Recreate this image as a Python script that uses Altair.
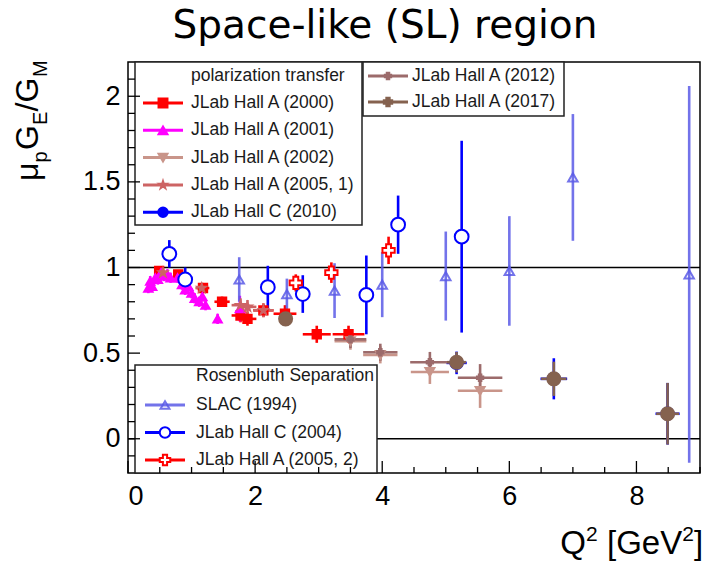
import altair as alt
import pandas as pd

# ---------------- data ----------------
labels = ["JLab Hall A (2000)", "JLab Hall A (2001)", "JLab Hall A (2002)",
          "JLab Hall A (2005, 1)", "JLab Hall C (2010)", "JLab Hall A (2012)",
          "JLab Hall A (2017)", "SLAC (1994)", "JLab Hall C (2004)",
          "JLab Hall A (2005, 2)"]

a2000_q2 = [0.49, 0.79, 1.18, 1.48, 1.77, 1.88, 2.13, 2.47, 2.97, 3.47]
a2000_r = [0.98, 0.96, 0.88, 0.80, 0.72, 0.70, 0.75, 0.73, 0.61, 0.61]
a2000_dq = [0.05, 0.07, 0.10, 0.12, 0.14, 0.14, 0.16, 0.18, 0.22, 0.25]
a2000_dr = [0.02, 0.02, 0.03, 0.03, 0.04, 0.04, 0.04, 0.05, 0.05, 0.05]

a2001_q2 = [0.32, 0.35, 0.38, 0.43, 0.47, 0.52, 0.57, 0.62, 0.67, 0.78, 0.85,
            0.90, 0.95, 1.00, 1.05, 1.12, 1.17, 1.22, 1.41, 1.76]
a2001_r = [0.88, 0.92, 0.89, 0.94, 0.93, 0.97, 0.95, 0.96, 0.94, 0.94, 0.90,
           0.87, 0.89, 0.85, 0.82, 0.80, 0.83, 0.78, 0.70, 0.76]
a2001_dq = [0.0] * 20
a2001_dr = [0.03] * 18 + [0.03, 0.075]

a2002_q2 = [3.50, 3.97, 4.75, 5.54]
a2002_r = [0.57, 0.49, 0.39, 0.28]
a2002_dq = [0.25, 0.27, 0.30, 0.35]
a2002_dr = [0.05, 0.05, 0.07, 0.10]

a2005_1_q2 = [0.55, 1.16, 1.77, 1.88, 2.13]
a2005_1_r = [0.97, 0.88, 0.78, 0.77, 0.75]
a2005_1_dq = [0.06, 0.10, 0.14, 0.14, 0.16]
a2005_1_dr = [0.02, 0.03, 0.04, 0.04, 0.04]

c2010_q2 = [5.17, 6.70, 8.49]
c2010_r = [0.443, 0.35, 0.146]
c2010_dq = [0.16, 0.21, 0.19]
c2010_dr = [0.066, 0.12, 0.18]

a2012_q2 = [3.50, 3.97, 4.75, 5.54]
a2012_r = [0.58, 0.505, 0.447, 0.356]
a2012_dq = [0.25, 0.27, 0.31, 0.35]
a2012_dr = [0.05, 0.05, 0.06, 0.08]

a2017_q2 = [2.48, 5.17, 6.70, 8.49]
a2017_r = [0.70, 0.447, 0.35, 0.146]
a2017_dq = [0.08, 0.15, 0.20, 0.18]
a2017_dr = [0.02, 0.06, 0.10, 0.18]

slac_q2 = [1.75, 2.50, 3.25, 4.00, 5.00, 6.00, 7.00, 8.83]
slac_r = [0.93, 0.845, 0.865, 0.90, 0.95, 0.98, 1.526, 0.96]
slac_dq = [0.0] * 8
slac_dr = [0.13, 0.09, 0.16, 0.19, 0.26, 0.32, 0.37, 1.10]

c2004_q2 = [0.65, 0.90, 2.20, 2.75, 3.75, 4.25, 5.25]
c2004_r = [1.08, 0.93, 0.885, 0.845, 0.84, 1.25, 1.18]
c2004_dq = [0.0] * 7
c2004_dr = [0.08, 0.07, 0.125, 0.11, 0.23, 0.17, 0.56]

a2005_2_q2 = [2.64, 3.20, 4.10]
a2005_2_r = [0.91, 0.97, 1.10]
a2005_2_dq = [0.02, 0.02, 0.02]
a2005_2_dr = [0.05, 0.06, 0.08]

ref_lines = [0.0, 1.0]
x_major = [0, 2, 4, 6, 8]
y_major = [0, 0.5, 1, 1.5, 2]
title_text = "Space-like (SL)  region"
x_title_parts = ["Q", "2", "[GeV", "2", "]"]
y_title_parts = ["\u03bc", "p", "G", "E", "/G", "M"]
pol_header = "polarization transfer"
ros_header = "Rosenbluth Separation"

# ---------------- styles ----------------
STAR = ("M0,-1L0.2245,-0.309L0.9511,-0.309L0.3633,0.118L0.5878,0.809L0,0.382"
        "L-0.5878,0.809L-0.3633,0.118L-0.9511,-0.309L-0.2245,-0.309Z")
style = {
    "JLab Hall A (2000)": dict(col="#FF0000", shape="square", fill="#FF0000", size=70, op=1.0,
                               lshape="square", lsize=80),
    "JLab Hall A (2001)": dict(col="#FF00FF", shape="triangle-up", fill="#FF00FF", size=70, op=1.0,
                               lshape="triangle-up", lsize=80),
    "JLab Hall A (2002)": dict(col="#C9958A", shape="triangle-down", fill="#C9958A", size=80, op=1.0,
                               lshape="triangle-down", lsize=80),
    "JLab Hall A (2005, 1)": dict(col="#CD6464", shape=STAR, fill="#CD6464", size=70, op=1.0,
                                  lshape=STAR, lsize=60),
    "JLab Hall C (2010)": dict(col="#0000FF", shape="circle", fill="#0000FF", size=150, op=1.0,
                               lshape="circle", lsize=90),
    "JLab Hall A (2012)": dict(col="#9C6B6B", shape="cross", fill="#9C6B6B", size=40, op=1.0,
                               lshape="cross", lsize=40),
    "JLab Hall A (2017)": dict(col="#85624F", shape="circle", fill="#85624F", size=170, op=1.0,
                               lshape="cross", lsize=70),
    "SLAC (1994)": dict(col="#5A5AE6", shape="triangle-up", fill="transparent", size=90, op=0.85,
                        lshape="triangle-up", lsize=80),
    "JLab Hall C (2004)": dict(col="#0000FF", shape="circle", fill="white", size=190, op=1.0,
                               lshape="circle", lsize=110),
    "JLab Hall A (2005, 2)": dict(col="#FF0000", shape="cross", fill="white", size=150, op=1.0,
                                  lshape="cross", lsize=110),
}

series_data = [
    (a2000_q2, a2000_r, a2000_dq, a2000_dr),
    (a2001_q2, a2001_r, a2001_dq, a2001_dr),
    (a2002_q2, a2002_r, a2002_dq, a2002_dr),
    (a2005_1_q2, a2005_1_r, a2005_1_dq, a2005_1_dr),
    (c2010_q2, c2010_r, c2010_dq, c2010_dr),
    (a2012_q2, a2012_r, a2012_dq, a2012_dr),
    (a2017_q2, a2017_r, a2017_dq, a2017_dr),
    (slac_q2, slac_r, slac_dq, slac_dr),
    (c2004_q2, c2004_r, c2004_dq, c2004_dr),
    (a2005_2_q2, a2005_2_r, a2005_2_dq, a2005_2_dr),
]

rows = []
for k, (lab, (q, r, dq, dr)) in enumerate(zip(labels, series_data)):
    st = style[lab]
    for i in range(len(q)):
        rows.append(dict(series=lab, k=k, q2=q[i], r=r[i],
                         qlo=q[i] - dq[i], qhi=q[i] + dq[i],
                         rlo=r[i] - dr[i], rhi=r[i] + dr[i],
                         col=st["col"], shape=st["shape"], fill=st["fill"],
                         size=st["size"], op=st["op"]))
df = pd.DataFrame(rows)

W, H = 572, 411
FONT = "Liberation Sans"

xs = alt.Scale(domain=[0, 9], nice=False, zero=False)
ys = alt.Scale(domain=[-0.2, 2.2], nice=False, zero=False)
xaxis = alt.Axis(values=x_major, format="~g", title=None, ticks=False, domain=False,
                 grid=False, labelFont=FONT, labelFontSize=27, labelColor="black",
                 labelPadding=10)
yaxis = alt.Axis(values=y_major, format="~g", title=None, ticks=False, domain=False,
                 grid=False, labelFont=FONT, labelFontSize=27, labelColor="black",
                 labelPadding=8)


def X(f):
    return alt.X(f, type="quantitative", scale=xs, axis=xaxis)


def Y(f):
    return alt.Y(f, type="quantitative", scale=ys, axis=yaxis)


base = alt.Chart(df)

vbars = base.mark_rule(strokeWidth=2.6, clip=True).encode(
    x=X("q2"), y=Y("rlo"), y2="rhi",
    color=alt.Color("col:N", scale=None), opacity=alt.Opacity("op:Q", scale=None))
hbars = base.mark_rule(strokeWidth=2.6, clip=True).encode(
    x=X("qlo"), x2="qhi", y=Y("r"),
    color=alt.Color("col:N", scale=None), opacity=alt.Opacity("op:Q", scale=None))
points = base.mark_point(strokeWidth=2, opacity=1, fillOpacity=1, clip=True).encode(
    x=X("q2"), y=Y("r"),
    shape=alt.Shape("shape:N", scale=None),
    fill=alt.Fill("fill:N", scale=None),
    stroke=alt.Stroke("col:N", scale=None),
    size=alt.Size("size:Q", scale=None),
    strokeOpacity=alt.StrokeOpacity("op:Q", scale=None))

refs = alt.Chart(pd.DataFrame({"v": ref_lines})).mark_rule(
    color="black", strokeWidth=1.5).encode(
    y=Y("v"), x=alt.value(0), x2=alt.value(W))

# axis ticks pointing inwards (ROOT style)
x_minor = [v / 2 for v in range(0, 19) if v % 4 != 0]
y_minor = [round(v / 10, 1) for v in range(-1, 22) if v % 5 != 0]
xt_major = alt.Chart(pd.DataFrame({"v": x_major})).mark_rule(color="black", strokeWidth=1.3).encode(
    x=X("v"), y=alt.value(H), y2=alt.value(H - 12))
xt_minor = alt.Chart(pd.DataFrame({"v": x_minor})).mark_rule(color="black", strokeWidth=1.3).encode(
    x=X("v"), y=alt.value(H), y2=alt.value(H - 6))
yt_major = alt.Chart(pd.DataFrame({"v": y_major})).mark_rule(color="black", strokeWidth=1.3).encode(
    y=Y("v"), x=alt.value(0), x2=alt.value(12))
yt_minor = alt.Chart(pd.DataFrame({"v": y_minor})).mark_rule(color="black", strokeWidth=1.3).encode(
    y=Y("v"), x=alt.value(0), x2=alt.value(7))

# ---------------- legends (drawn inside the frame like ROOT TLegend) ----------------
boxes = pd.DataFrame([
    dict(x=7, x2=234, y=0, y2=163),
    dict(x=235, x2=436, y=0, y2=54),
    dict(x=7, x2=249, y=303, y2=411),
])
box_layer = alt.Chart(boxes).mark_rect(fill="white", stroke="#222", strokeWidth=1.5).encode(
    x=alt.X("x:Q", scale=None), x2="x2", y=alt.Y("y:Q", scale=None), y2="y2")

leg_rows = []
groups = [
    (labels[0:5], 35, 63, 41.0, 27.3),
    (labels[5:7], 260, 284, 14.0, 26.0),
    (labels[7:10], 37, 68, 343.0, 27.5),
]
for labs, sx, tx, y0, dy in groups:
    for i, lab in enumerate(labs):
        st = style[lab]
        leg_rows.append(dict(series=lab, sx=sx, sxl=sx - 20, sxr=sx + 20, tx=tx,
                             ty=y0 + i * dy, col=st["col"], shape=st["lshape"],
                             fill=st["fill"], size=st["lsize"], op=st["op"]))
leg = pd.DataFrame(leg_rows)
lbase = alt.Chart(leg)
leg_lines = lbase.mark_rule(strokeWidth=3).encode(
    x=alt.X("sxl:Q", scale=None), x2="sxr", y=alt.Y("ty:Q", scale=None),
    color=alt.Color("col:N", scale=None), opacity=alt.Opacity("op:Q", scale=None))
leg_pts = lbase.mark_point(strokeWidth=2, opacity=1, fillOpacity=1).encode(
    x=alt.X("sx:Q", scale=None), y=alt.Y("ty:Q", scale=None),
    shape=alt.Shape("shape:N", scale=None), fill=alt.Fill("fill:N", scale=None),
    stroke=alt.Stroke("col:N", scale=None), size=alt.Size("size:Q", scale=None),
    strokeOpacity=alt.StrokeOpacity("op:Q", scale=None))
leg_text = lbase.mark_text(align="left", baseline="middle", font=FONT, fontSize=17.5,
                           color="#1a1a1a").encode(
    x=alt.X("tx:Q", scale=None), y=alt.Y("ty:Q", scale=None), text="series:N")
heads = pd.DataFrame([dict(t=pol_header, x=63, y=13.5), dict(t=ros_header, x=68, y=314)])
head_text = alt.Chart(heads).mark_text(align="left", baseline="middle", font=FONT,
                                       fontSize=17.5, color="#1a1a1a").encode(
    x=alt.X("x:Q", scale=None), y=alt.Y("y:Q", scale=None), text="t:N")

# ---------------- titles ----------------
title = alt.Chart(pd.DataFrame({"t": [title_text]})).mark_text(
    font="DejaVu Sans", fontSize=39, align="center", baseline="alphabetic", color="black").encode(
    text="t:N", x=alt.value(257), y=alt.value(-24.5))

# x title: Q^2 [GeV^2] built from pieces (main 33 px, superscripts 21 px)
xt_main, xt_sup = 33, 21
xpos = [(0, 432.3, 492, xt_main), (1, 458.0, 479, xt_sup), (2, 479.0, 492, xt_main),
        (3, 554.3, 479, xt_sup), (4, 566.0, 492, xt_main)]
xtitle_layers = []
for idx, px, py, fs in xpos:
    xtitle_layers.append(
        alt.Chart(pd.DataFrame({"t": [x_title_parts[idx]]})).mark_text(
            font=FONT, fontSize=fs, align="left", baseline="alphabetic",
            color="black").encode(text="t:N", x=alt.value(px), y=alt.value(py)))

# y title: mu_p G_E / G_M built from pieces (main 32 px, subscripts 20 px)
yt_main, yt_sub = 32, 20
ypos = [(0, -90, 119, yt_main), (1, -81, 100.5, yt_sub), (2, -90, 88, yt_main),
        (3, -81, 63, yt_sub), (4, -90, 49.5, yt_main), (5, -81, 15, yt_sub)]
ytitle_layers = []
for idx, px, py, fs in ypos:
    ytitle_layers.append(
        alt.Chart(pd.DataFrame({"t": [y_title_parts[idx]]})).mark_text(
            font=FONT, fontSize=fs, angle=270, align="left", baseline="alphabetic",
            color="black").encode(text="t:N", x=alt.value(px), y=alt.value(py)))

chart = alt.layer(
    refs, vbars, hbars, points,
    box_layer, leg_lines, leg_pts, leg_text, head_text,
    xt_major, xt_minor, yt_major, yt_minor,
    title, *xtitle_layers, *ytitle_layers,
).properties(
    width=W, height=H,
    autosize=alt.AutoSizeParams(type="none"),
    padding={"left": 128, "top": 62, "right": 5, "bottom": 97},
).configure_view(stroke="black", strokeWidth=1.5)

chart.save("out.html", embed_options={"renderer": "svg", "actions": False})
